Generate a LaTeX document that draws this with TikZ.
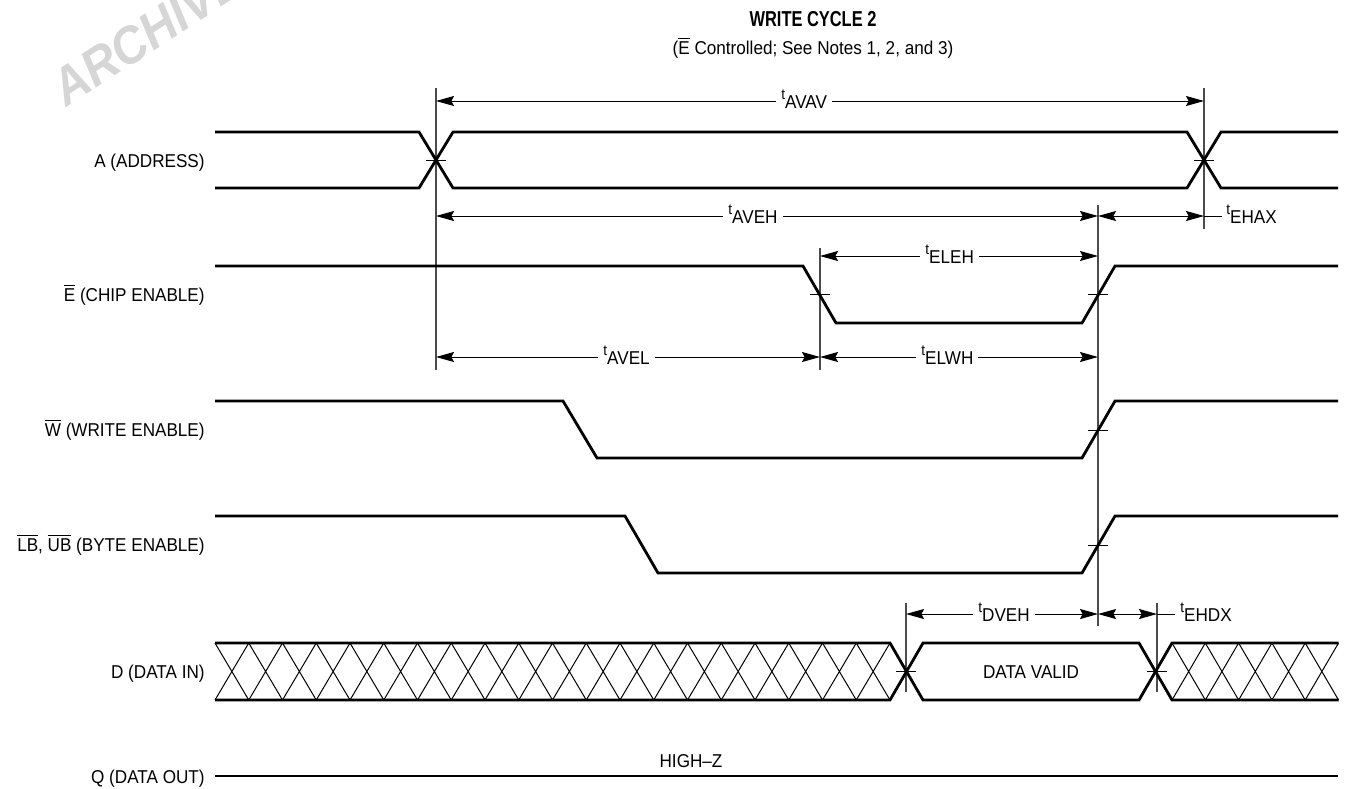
\documentclass[tikz,border=0pt]{standalone}
\usepackage{fontspec}
\setmainfont{Liberation Sans}[FakeStretch=0.92]
\newfontfamily\titlefont{Liberation Sans}[FakeStretch=0.76]
\usetikzlibrary{arrows.meta}
\newcommand\ovl[1]{\ensuremath{\overline{\mbox{#1}}}}
\newcommand\tlab[1]{\raisebox{4.3pt}{\fontsize{7.4}{8}\selectfont t}#1}
\begin{document}
\begin{tikzpicture}[x=0.5pt,y=-0.5pt,font=\fontsize{9.3}{11}\selectfont,
  sig/.style={line width=1.4pt,line join=miter},
  dimline/.style={line width=0.5pt},
  both/.style={dimline,{Stealth[length=9pt,width=5pt,inset=1.3pt]}-{Stealth[length=9pt,width=5pt,inset=1.3pt]}},
  refline/.style={line width=0.65pt,black!70},
  hatch/.style={line width=0.5pt},
  tick/.style={line width=0.5pt},
  lbl/.style={anchor=base east,inner sep=0pt},
  tl/.style={fill=white,inner sep=2.5pt,anchor=base west},
  tlx/.style={inner sep=0pt,anchor=base west}]
\useasboundingbox (0,0) rectangle (1347,788);
% watermark
\node[anchor=base west,rotate=33,text=black!16,inner sep=0pt,
      font=\fontsize{26}{28}\selectfont\bfseries\itshape] (wm) at (66,108) {ARCHIVED BY FREESCALE};
% title
\node[anchor=base,inner sep=0pt,font=\fontsize{10.8}{12}\titlefont\bfseries] (title) at (813,26) {WRITE CYCLE 2};
\node[anchor=base,inner sep=0pt] (sub) at (813,54) {(\ovl{E} Controlled; See Notes 1, 2, and 3)};
% signal labels
\node[lbl] (la) at (205,167) {A (ADDRESS)};
\node[lbl] (le) at (205,301) {\ovl{E} (CHIP ENABLE)};
\node[lbl] (lw) at (205,436) {\ovl{W} (WRITE ENABLE)};
\node[lbl] (lb) at (205,551) {\ovl{LB}, \ovl{UB} (BYTE ENABLE)};
\node[lbl] (ld) at (205,678) {D (DATA IN)};
\node[lbl] (lq) at (205,783) {Q (DATA OUT)};
% reference coordinates
\coordinate (avavL) at (436,101); \coordinate (avavR) at (1204,101);
\coordinate (avehL) at (436,216); \coordinate (avehR) at (1098,216);
\coordinate (ehaxR) at (1204,216); \coordinate (ehaxT) at (1222,216);
\coordinate (elehL) at (820,256); \coordinate (elehR) at (1098,256);
\coordinate (avelL) at (436,357); \coordinate (avelR) at (820,357);
\coordinate (elwhR) at (1098,357);
\coordinate (dvehL) at (906,614); \coordinate (dvehR) at (1098,614);
\coordinate (ehdxR) at (1157,614); \coordinate (ehdxT) at (1175,614);
% vertical reference lines
\draw[refline] (436,88) -- (436,370);
\draw[refline] (1204,88) -- (1204,229);
\draw[refline] (820,248) -- (820,370);
\draw[refline] (1098,205) -- (1098,626);
\draw[refline] (906,603) -- (906,692);
\draw[refline] (1157,603) -- (1157,692);
% A
\draw[sig] (215,132) -- (419,132) -- (453,188) -- (1187,188) -- (1221,132) -- (1338,132);
\draw[sig] (215,188) -- (419,188) -- (453,132) -- (1187,132) -- (1221,188) -- (1338,188);
% E
\draw[sig] (215,266) -- (803,266) -- (836,323) -- (1082,323) -- (1115,266) -- (1338,266);
% W
\draw[sig] (215,401) -- (563,401) -- (597,458) -- (1082,458) -- (1115,401) -- (1338,401);
% LB UB
\draw[sig] (215,516) -- (625,516) -- (658,573) -- (1082,573) -- (1115,516) -- (1338,516);
% D
\foreach \i in {0,...,19}{
  \draw[hatch] ({215+\i*33.75},643) -- ({215+(\i+1)*33.75},700)
               ({215+\i*33.75},700) -- ({215+(\i+1)*33.75},643);}
\foreach \i in {0,...,4}{
  \draw[hatch] ({1172+\i*33.3},643) -- ({1172+(\i+1)*33.3},700)
               ({1172+\i*33.3},700) -- ({1172+(\i+1)*33.3},643);}
\draw[sig] (215,643) -- (890,643) -- (923,700) -- (1139,700) -- (1172,643) -- (1338.5,643);
\draw[sig] (215,700) -- (890,700) -- (923,643) -- (1139,643) -- (1172,700) -- (1338.5,700);
\node[anchor=base,inner sep=0pt] (dv) at (1031,678) {DATA VALID};
% Q
\draw[sig] (215,776) -- (1338,776);
\node[anchor=base,inner sep=0pt] (hz) at (691,767) {HIGH–Z};
% ticks
\foreach \x/\y in {436/160,1204/160,820/294,1098/294,1098/430,1098/545,906/671.5,1157/671.5}
  \draw[tick] (\x-10,\y) -- (\x+10,\y);
% timing arrows
\draw[both] (avavL) -- (avavR);
\node[tl] (t1) at (776,108) {\tlab{AVAV}};
\draw[both] (avehL) -- (avehR);
\node[tl] (t2) at (723,223) {\tlab{AVEH}};
\draw[both] (avehR) -- (ehaxR);
\draw[dimline] (ehaxR) -- (ehaxT);
\node[tlx] (t3) at (1226,223) {\tlab{EHAX}};
\draw[both] (elehL) -- (elehR);
\node[tl] (t4) at (920,263) {\tlab{ELEH}};
\draw[both] (avelL) -- (avelR);
\node[tl] (t5) at (598,364) {\tlab{AVEL}};
\draw[both] (avelR) -- (elwhR);
\node[tl] (t6) at (916,364) {\tlab{ELWH}};
\draw[both] (dvehL) -- (dvehR);
\node[tl] (t7) at (973,621) {\tlab{DVEH}};
\draw[both] (dvehR) -- (ehdxR);
\draw[dimline] (ehdxR) -- (ehdxT);
\node[tlx] (t8) at (1180,621) {\tlab{EHDX}};
\end{tikzpicture}
\end{document}
